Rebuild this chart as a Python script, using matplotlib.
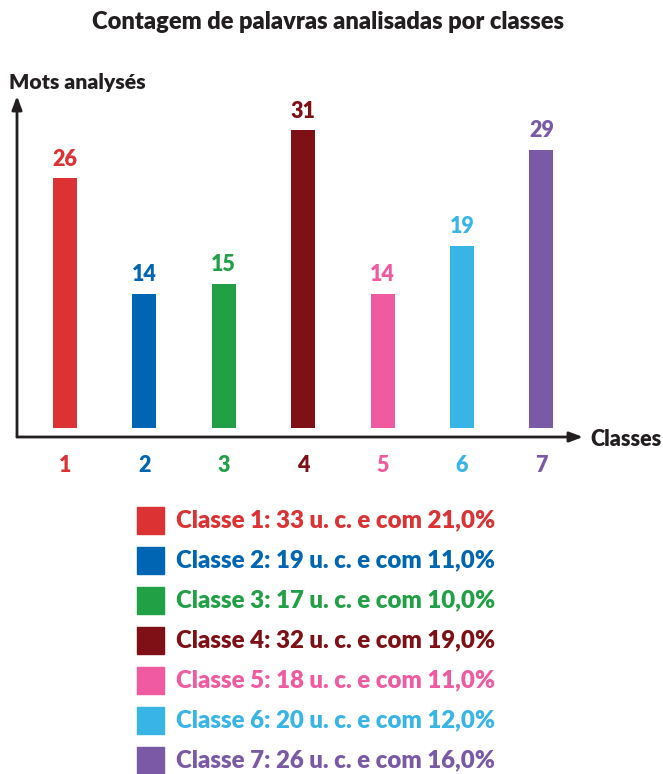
import matplotlib
matplotlib.use("Agg")
import matplotlib.pyplot as plt

plt.rcParams['font.family'] = ['Lato', 'DejaVu Sans']
plt.rcParams['font.weight'] = 'heavy'

classes = ['1', '2', '3', '4', '5', '6', '7']
mots = [26, 14, 15, 31, 14, 19, 29]
uc = [33, 19, 17, 32, 18, 20, 26]
pct = ['21,0', '11,0', '10,0', '19,0', '11,0', '12,0', '16,0']
cores = ['#dc3233', '#0066b3', '#21a046', '#7f1016', '#ef5aa0', '#38b4e7', '#7a5aa6']

W, H = 663, 774
fig = plt.figure(figsize=(W / 100, H / 100), dpi=100)

# eixos: origem em (17, 437) px, setas até x=583 e y=96
ax = fig.add_axes([17 / W, (H - 437) / H, 566 / W, 341 / H])
x = list(range(1, len(classes) + 1))
ax.bar(x, mots, width=0.30, color=cores)
ax.set_xlim(0.3955, 7.524)
ax.set_ylim(-0.94, 34.58)
ax.axis('off')

for xi, v, c in zip(x, mots, cores):
    ax.text(xi, v + 0.9, str(v), ha='center', va='bottom', color=c,
            fontsize=15.5, fontweight='heavy')
    ax.text(xi, -3.95, classes[xi - 1], ha='center', va='center', color=c,
            fontsize=15.5, fontweight='heavy')

seta = dict(arrowstyle='-|>,head_length=0.8,head_width=0.3', color='#231f20', lw=2,
            shrinkA=0, shrinkB=0)
ax.annotate('', xy=(1, 0), xytext=(0, 0), xycoords='axes fraction', arrowprops=seta,
            annotation_clip=False)
ax.annotate('', xy=(0, 1), xytext=(0, 0), xycoords='axes fraction', arrowprops=seta,
            annotation_clip=False)

fig.text(328 / W, 1 - 22 / H, 'Contagem de palavras analisadas por classes',
         ha='center', va='center', fontsize=17, fontweight='heavy', color='#231f20')
fig.text(9 / W, 1 - 82 / H, 'Mots analysés', ha='left', va='center',
         fontsize=15.3, fontweight='heavy', color='#231f20')
fig.text(590 / W, 1 - 440 / H, 'Classes', ha='left', va='center',
         fontsize=15.5, fontweight='heavy', color='#231f20')

# legenda
for i, c in enumerate(cores):
    yc = 520 + 40 * i
    fig.patches.append(plt.Rectangle((137 / W, 1 - (yc + 13.5) / H), 27 / W, 27 / H,
                                     transform=fig.transFigure, color=c))
    fig.text(176 / W, 1 - yc / H,
             f'Classe {classes[i]}: {uc[i]} u. c. e com {pct[i]}%',
             ha='left', va='center', fontsize=17.3, fontweight='heavy', color=c)

fig.savefig('out.png', dpi=100)
